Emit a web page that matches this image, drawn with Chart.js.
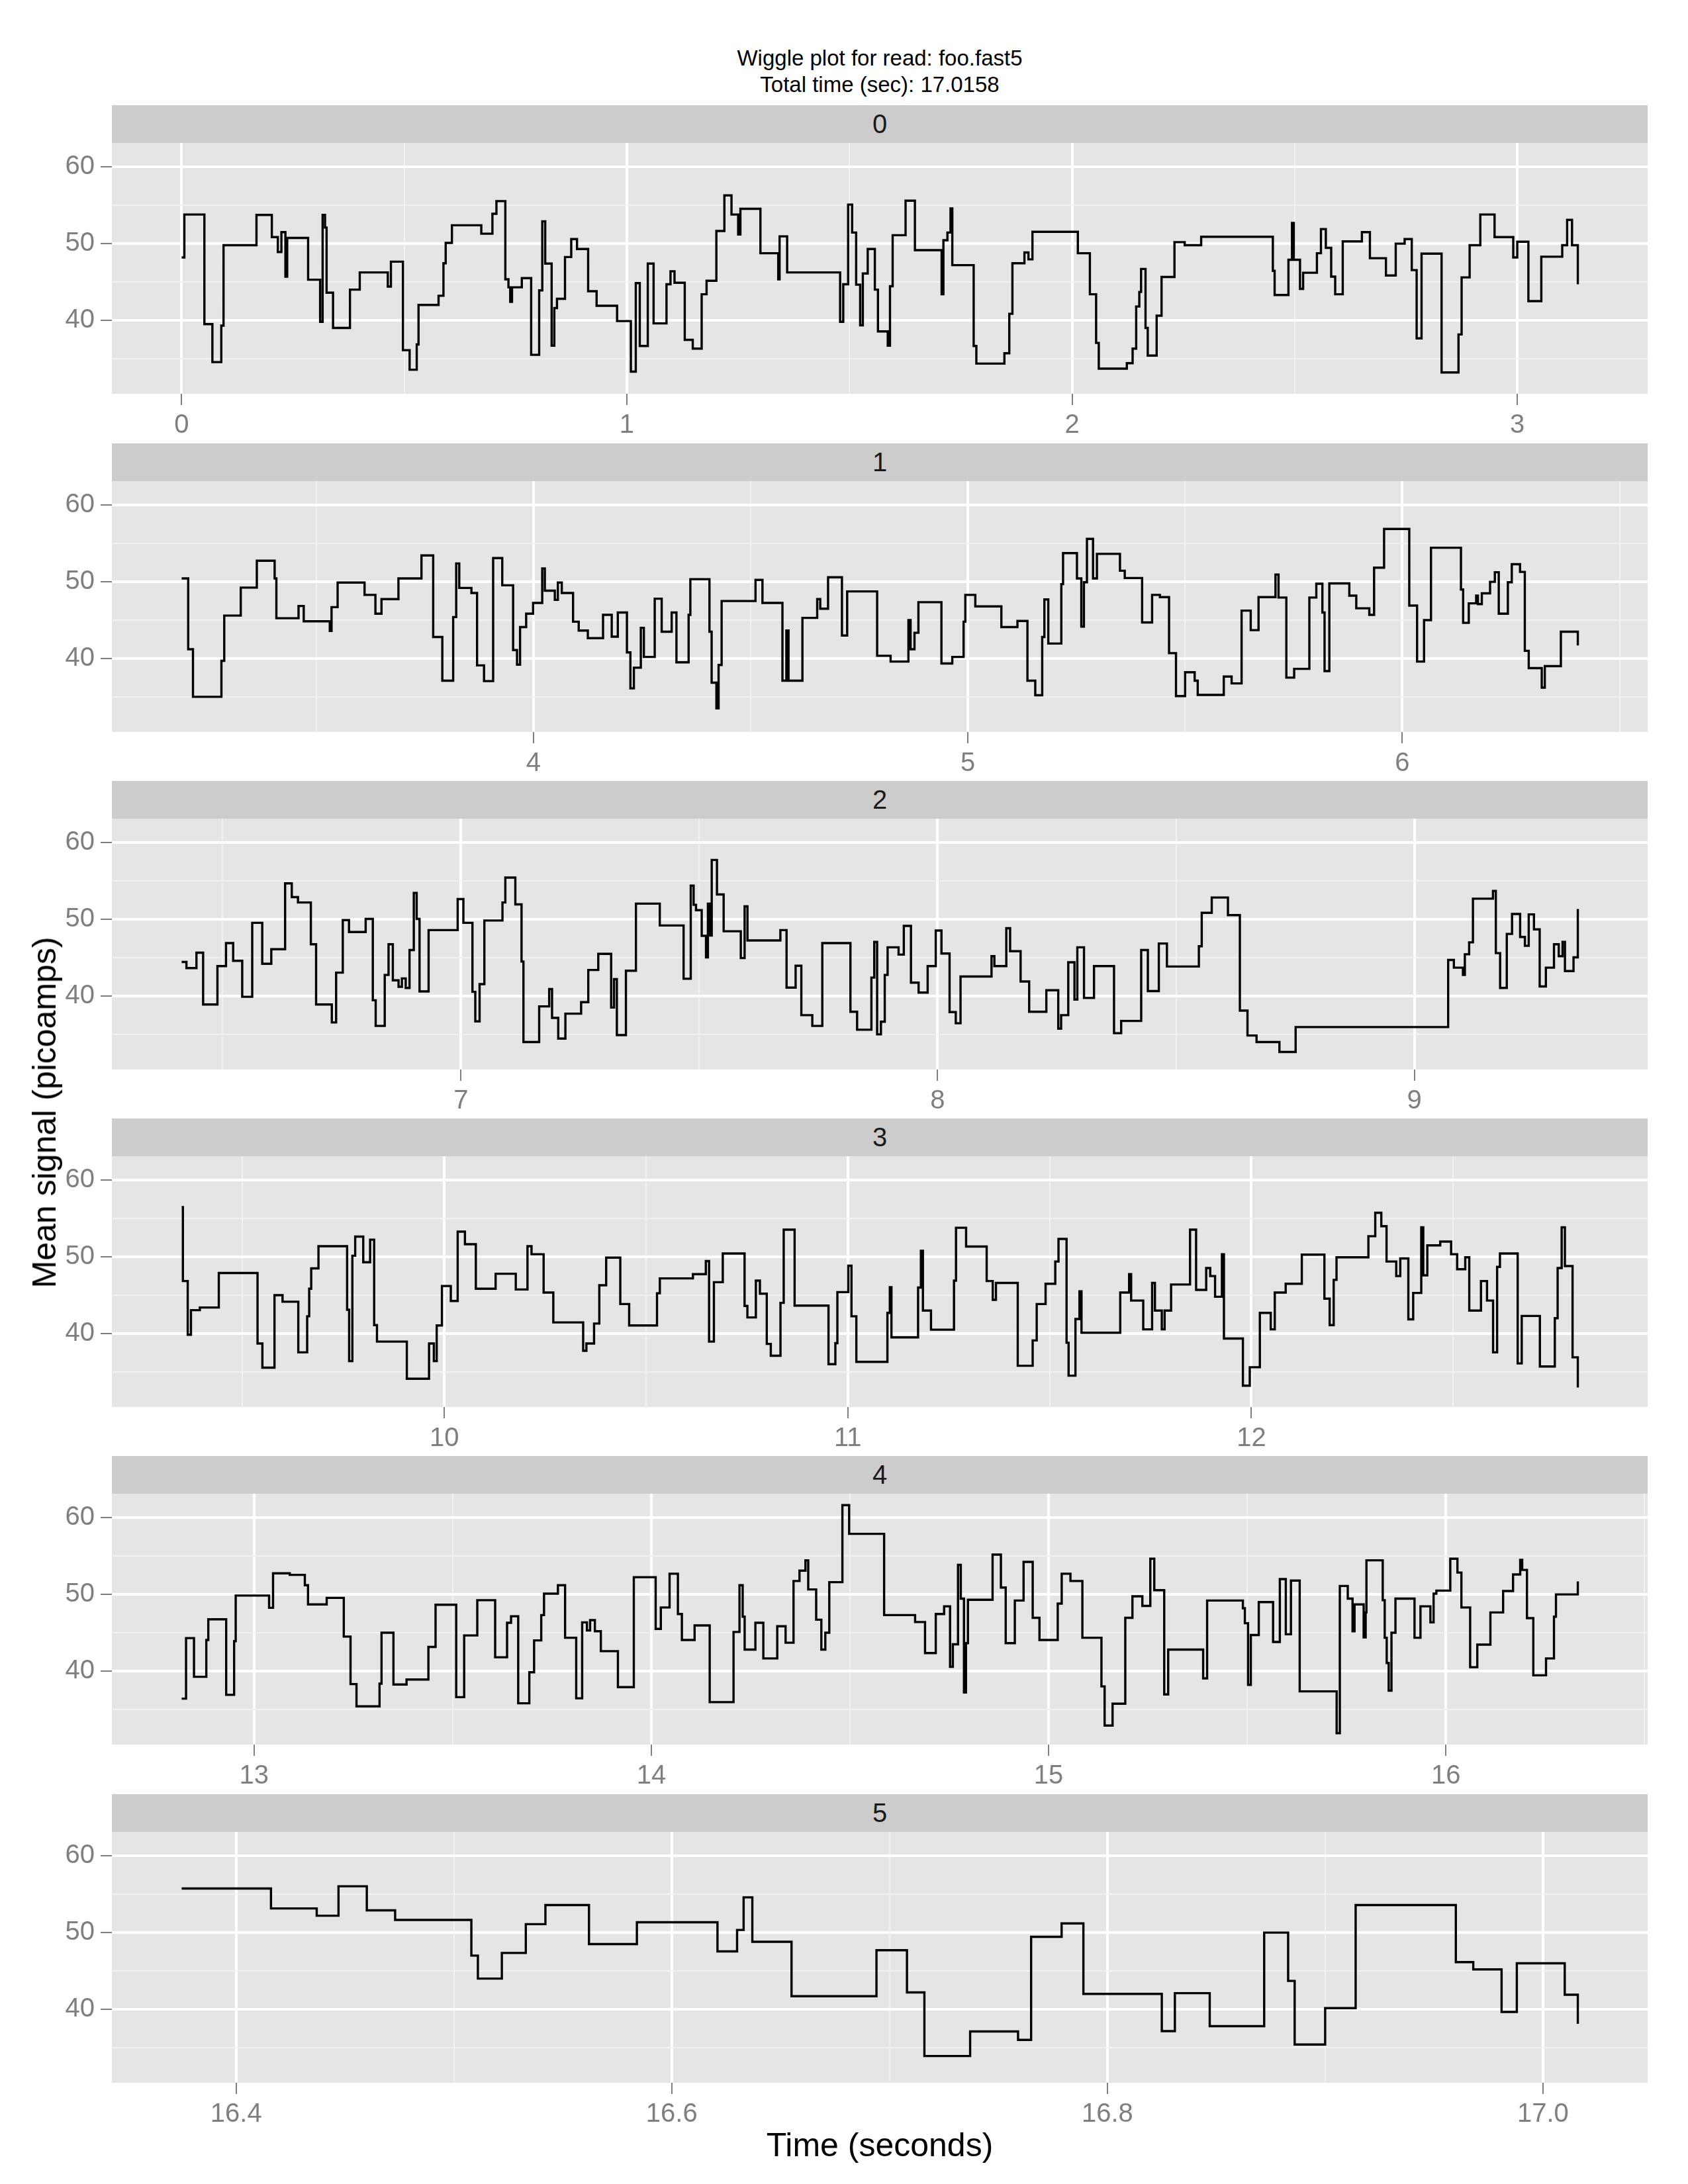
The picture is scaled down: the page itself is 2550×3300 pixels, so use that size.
<!DOCTYPE html>
<html>
<head>
<meta charset="utf-8">
<title>Wiggle plot</title>
<script src="https://cdn.jsdelivr.net/npm/chart.js@4.4.1/dist/chart.umd.min.js"></script>
<style>
  html, body { margin: 0; padding: 0; background: #ffffff; }
  body {
    width: 2550px; height: 3300px; position: relative; overflow: hidden;
    font-family: "Liberation Sans", Arial, Helvetica, sans-serif;
  }
  .title { position: absolute; left: 169px; width: 2320px; top: 68px;
    text-align: center; font-size: 33px; line-height: 40px; color: #000; }
  .strip { position: absolute; left: 169px; width: 2320px; height: 57px;
    background: #cccccc; color: #1a1a1a; font-size: 40px; line-height: 57px; text-align: center; }
  .panel { position: absolute; left: 0; }
  .xtitle { position: absolute; left: 169px; width: 2320px; top: 3211px;
    text-align: center; font-size: 50px; line-height: 60px; color: #000; }
  .ytitle { position: absolute; left: 67px; top: 1681px; white-space: nowrap;
    font-size: 50px; line-height: 60px; color: #000;
    transform: translate(-50%, -50%) rotate(-90deg); }
</style>
</head>
<body>
<div class="title">Wiggle plot for read: foo.fast5<br>Total time (sec): 17.0158</div>
<div id="panels"></div>
<div class="xtitle">Time (seconds)</div>
<div class="ytitle">Mean signal (picoamps)</div>
<script>
// facet labels
const facetLabels = ['0', '1', '2', '3', '4', '5'];

// event start times (s) and mean signal (pA), one pair of arrays per facet
const time0 = [0, 0.006, 0.051, 0.069, 0.089, 0.094, 0.168, 0.2025, 0.216, 0.224, 0.233, 0.237, 0.284, 0.311, 0.3166, 0.322, 0.3255, 0.340, 0.378, 0.400,
  0.463, 0.470, 0.497, 0.512, 0.528, 0.532, 0.577, 0.588, 0.593, 0.607, 0.673, 0.698, 0.707, 0.727, 0.734, 0.738, 0.742, 0.764, 0.785, 0.803,
  0.810, 0.8166, 0.831, 0.837, 0.843, 0.861, 0.875, 0.888, 0.913, 0.932, 0.978, 1.009, 1.020, 1.029, 1.047, 1.060, 1.089, 1.098, 1.107, 1.130,
  1.148, 1.168, 1.179, 1.201, 1.219, 1.235, 1.250, 1.255, 1.300, 1.340, 1.343, 1.360, 1.479, 1.486, 1.497, 1.506, 1.515, 1.524, 1.530, 1.541,
  1.557, 1.564, 1.586, 1.591, 1.597, 1.626, 1.647, 1.707, 1.711, 1.720, 1.727, 1.731, 1.779, 1.785, 1.848, 1.859, 1.866, 1.893, 1.902, 1.911,
  2.013, 2.040, 2.054, 2.060, 2.123, 2.136, 2.144, 2.151, 2.155, 2.165, 2.170, 2.190, 2.201, 2.230, 2.253, 2.290, 2.451, 2.455, 2.486, 2.494,
  2.498, 2.512, 2.519, 2.550, 2.559, 2.570, 2.582, 2.591, 2.608, 2.651, 2.669, 2.705, 2.727, 2.747, 2.763, 2.774, 2.785, 2.830, 2.868, 2.875,
  2.893, 2.917, 2.949, 2.991, 3.000, 3.025, 3.054, 3.101, 3.112, 3.123, 3.136];
const mean0 = [48.2, 53.8, 39.5, 34.55, 39.3, 49.8, 53.75, 50.85, 48.9, 51.5, 45.7, 50.75, 45.3, 39.8, 53.75, 52.1, 43.6, 39.0, 44.0, 46.25,
  44.4, 47.65, 36.1, 33.55, 36.85, 42.0, 43.2, 47.45, 50.1, 52.4, 51.3, 53.9, 55.55, 45.35, 44.3, 42.4, 44.3, 45.5, 35.5, 43.9,
  52.9, 47.4, 36.7, 41.6, 42.8, 48.25, 50.6, 49.3, 43.8, 41.9, 39.9, 33.3, 44.85, 36.65, 47.4, 39.6, 44.7, 46.4, 44.9, 37.45,
  36.3, 43.4, 45.15, 51.65, 56.3, 53.8, 51.2, 54.55, 48.75, 45.35, 50.95, 46.25, 39.8, 44.7, 55.1, 51.45, 44.65, 39.35, 46.1, 49.3,
  44.0, 38.55, 36.7, 44.45, 51.1, 55.6, 49.15, 43.4, 50.45, 51.45, 54.6, 47.2, 36.65, 34.35, 35.7, 40.85, 47.45, 48.85, 47.95, 51.55,
  48.75, 43.4, 37.05, 33.7, 34.4, 36.3, 41.8, 43.7, 46.7, 39.0, 35.4, 40.6, 45.65, 50.2, 49.8, 50.9, 46.45, 43.3, 47.9, 52.7,
  47.9, 44.1, 46.2, 48.75, 51.9, 49.45, 45.7, 43.4, 50.3, 51.5, 48.1, 45.85, 50.0, 50.6, 46.55, 37.65, 48.7, 33.2, 38.15, 45.6,
  49.8, 53.8, 50.85, 48.2, 50.25, 42.5, 48.3, 49.8, 53.1, 49.8, 44.7];

const time1 = [3.190, 3.205, 3.216, 3.2815, 3.288, 3.326, 3.363, 3.404, 3.408, 3.459, 3.471, 3.531, 3.535, 3.549, 3.611, 3.636, 3.650, 3.689, 3.742, 3.769,
  3.790, 3.815, 3.822, 3.829, 3.857, 3.870, 3.886, 3.907, 3.928, 3.953, 3.962, 3.969, 3.983, 3.999, 4.020, 4.026, 4.049, 4.056, 4.065, 4.091,
  4.104, 4.125, 4.160, 4.180, 4.194, 4.215, 4.223, 4.231, 4.247, 4.254, 4.279, 4.295, 4.318, 4.329, 4.357, 4.361, 4.405, 4.410, 4.421, 4.426,
  4.433, 4.511, 4.527, 4.573, 4.582, 4.587, 4.619, 4.653, 4.660, 4.678, 4.710, 4.722, 4.791, 4.822, 4.863, 4.868, 4.877, 4.886, 4.939, 4.964,
  4.990, 4.994, 5.017, 5.077, 5.114, 5.137, 5.155, 5.171, 5.176, 5.185, 5.215, 5.219, 5.251, 5.261, 5.267, 5.274, 5.288, 5.297, 5.350, 5.361,
  5.401, 5.424, 5.442, 5.463, 5.479, 5.500, 5.522, 5.529, 5.589, 5.607, 5.630, 5.651, 5.669, 5.708, 5.715, 5.733, 5.751, 5.786, 5.802, 5.816,
  5.821, 5.832, 5.878, 5.894, 5.924, 5.935, 5.958, 6.016, 6.034, 6.050, 6.066, 6.135, 6.140, 6.153, 6.170, 6.174, 6.183, 6.202, 6.213, 6.222,
  6.243, 6.252, 6.271, 6.282, 6.291, 6.321, 6.328, 6.365, 6.404];
const mean1 = [50.45, 41.2, 35.0, 39.7, 45.6, 49.25, 52.75, 50.45, 45.25, 46.85, 44.85, 43.6, 46.7, 49.9, 48.3, 45.85, 47.75, 50.45, 53.45, 42.8,
  37.1, 45.4, 52.4, 49.2, 48.55, 39.1, 37.05, 53.1, 49.55, 41.1, 39.2, 44.1, 45.85, 47.25, 51.75, 48.85, 47.65, 49.9, 48.55, 44.8,
  43.65, 42.65, 45.7, 42.85, 46.0, 40.8, 36.1, 38.8, 44.0, 40.2, 47.8, 43.5, 46.0, 39.5, 45.7, 50.35, 43.5, 36.85, 33.5, 39.15,
  47.5, 50.25, 47.25, 37.1, 43.65, 37.1, 45.3, 47.75, 46.5, 50.6, 43.0, 48.75, 40.35, 39.6, 45.0, 41.2, 43.35, 47.35, 39.35, 40.2,
  44.8, 48.3, 46.8, 44.1, 44.9, 37.1, 35.2, 42.8, 47.7, 41.95, 49.7, 53.75, 50.45, 44.15, 49.95, 55.6, 50.45, 53.65, 51.45, 50.5,
  44.7, 48.3, 48.0, 40.7, 35.1, 38.2, 37.1, 35.25, 37.65, 36.75, 46.25, 43.7, 48.0, 50.95, 47.95, 37.5, 38.65, 47.95, 49.75, 46.0,
  38.35, 49.8, 48.2, 46.55, 45.7, 51.85, 56.9, 46.9, 39.6, 45.0, 54.45, 49.0, 44.65, 47.2, 48.2, 47.1, 48.5, 50.0, 51.25, 45.85,
  49.95, 52.3, 51.3, 41.0, 38.75, 36.2, 39.0, 43.5, 41.7];

const time2 = [6.414, 6.424, 6.445, 6.459, 6.489, 6.507, 6.522, 6.541, 6.562, 6.583, 6.602, 6.631, 6.645, 6.658, 6.685, 6.696, 6.729, 6.738, 6.752, 6.765,
  6.800, 6.815, 6.821, 6.840, 6.848, 6.857, 6.869, 6.876, 6.884, 6.892, 6.901, 6.907, 6.913, 6.932, 6.993, 7.005, 7.024, 7.030, 7.039, 7.049,
  7.087, 7.093, 7.114, 7.127, 7.131, 7.164, 7.185, 7.191, 7.204, 7.219, 7.252, 7.267, 7.288, 7.315, 7.321, 7.327, 7.346, 7.367, 7.417, 7.467,
  7.482, 7.488, 7.493, 7.505, 7.514, 7.518, 7.522, 7.526, 7.537, 7.551, 7.587, 7.595, 7.601, 7.670, 7.683, 7.702, 7.714, 7.737, 7.758, 7.817,
  7.831, 7.861, 7.867, 7.873, 7.881, 7.889, 7.895, 7.918, 7.929, 7.944, 7.960, 7.979, 7.996, 8.008, 8.025, 8.038, 8.048, 8.113, 8.119, 8.144,
  8.152, 8.174, 8.192, 8.228, 8.253, 8.259, 8.274, 8.287, 8.293, 8.307, 8.328, 8.370, 8.385, 8.427, 8.441, 8.464, 8.481, 8.548, 8.554, 8.575,
  8.609, 8.634, 8.650, 8.669, 8.717, 8.751, 9.071, 9.083, 9.102, 9.106, 9.115, 9.123, 9.165, 9.171, 9.180, 9.194, 9.205, 9.222, 9.232, 9.240,
  9.251, 9.263, 9.276, 9.293, 9.303, 9.311, 9.316, 9.334, 9.343];
const mean2 = [44.45, 43.65, 45.65, 38.9, 43.9, 46.9, 44.6, 39.9, 49.55, 44.2, 46.1, 54.7, 52.9, 52.2, 46.75, 38.9, 36.55, 43.05, 49.9, 48.35,
  50.05, 39.45, 36.1, 42.75, 46.75, 42.05, 41.2, 42.3, 41.05, 46.0, 53.45, 50.05, 40.6, 48.6, 52.65, 49.55, 40.55, 36.7, 41.55, 49.85,
  52.2, 55.45, 51.95, 44.5, 34.0, 38.65, 40.9, 37.15, 34.45, 37.7, 39.2, 43.4, 45.5, 38.5, 42.2, 34.9, 43.3, 52.05, 49.2, 42.25,
  54.4, 51.9, 51.2, 47.85, 45.05, 52.05, 47.9, 57.75, 53.25, 48.45, 44.95, 51.7, 47.25, 48.6, 41.1, 43.95, 37.5, 36.1, 46.9, 37.95,
  35.6, 42.4, 47.05, 35.0, 36.65, 42.75, 46.35, 45.4, 49.15, 41.75, 40.45, 43.9, 48.55, 45.55, 37.9, 36.45, 42.55, 45.2, 43.9, 48.85,
  45.85, 41.9, 37.95, 40.75, 35.75, 37.5, 44.4, 39.55, 46.35, 39.75, 43.9, 35.15, 36.75, 46.0, 40.65, 46.85, 43.85, 46.5, 50.85, 52.85,
  50.55, 38.1, 34.85, 34.0, 32.7, 35.95, 44.7, 43.7, 42.75, 45.45, 47.0, 52.7, 53.7, 45.6, 41.05, 48.1, 50.7, 47.7, 46.55, 50.65,
  48.7, 41.25, 43.7, 46.75, 45.2, 47.05, 43.25, 45.05, 51.35];

const time3 = [9.349, 9.352, 9.364, 9.372, 9.394, 9.441, 9.537, 9.549, 9.579, 9.599, 9.638, 9.660, 9.665, 9.670, 9.688, 9.759, 9.764, 9.772, 9.779, 9.799,
  9.816, 9.826, 9.833, 9.907, 9.962, 9.974, 9.981, 9.994, 10.016, 10.033, 10.051, 10.078, 10.127, 10.177, 10.206, 10.216, 10.246, 10.270, 10.344, 10.352,
  10.371, 10.384, 10.401, 10.436, 10.458, 10.527, 10.534, 10.616, 10.648, 10.656, 10.668, 10.690, 10.744, 10.751, 10.772, 10.782, 10.799, 10.809, 10.833, 10.841,
  10.868, 10.952, 10.969, 10.974, 11.001, 11.009, 11.021, 11.098, 11.104, 11.108, 11.174, 11.181, 11.186, 11.206, 11.263, 11.268, 11.293, 11.344, 11.359, 11.367,
  11.421, 11.458, 11.468, 11.490, 11.514, 11.522, 11.542, 11.547, 11.564, 11.574, 11.579, 11.675, 11.697, 11.702, 11.732, 11.754, 11.761, 11.778, 11.785, 11.801,
  11.848, 11.863, 11.888, 11.898, 11.910, 11.927, 11.932, 11.979, 11.996, 12.021, 12.048, 12.058, 12.085, 12.125, 12.181, 12.194, 12.204, 12.211, 12.290, 12.307,
  12.322, 12.335, 12.359, 12.369, 12.389, 12.401, 12.421, 12.426, 12.436, 12.468, 12.495, 12.510, 12.530, 12.540, 12.569, 12.584, 12.599, 12.609, 12.616, 12.660,
  12.670, 12.715, 12.752, 12.759, 12.769, 12.777, 12.796, 12.809];
const mean3 = [56.5, 46.85, 39.85, 43.05, 43.4, 47.9, 38.7, 35.55, 45.0, 44.15, 37.55, 42.25, 45.85, 48.5, 51.4, 43.1, 36.4, 50.15, 52.65, 49.3,
  52.25, 41.1, 38.95, 34.1, 38.7, 36.4, 41.05, 46.2, 44.25, 53.3, 51.65, 45.85, 47.8, 45.75, 51.4, 50.35, 45.35, 41.45, 37.75, 38.7,
  41.3, 46.3, 49.9, 43.85, 41.05, 45.25, 47.2, 47.75, 49.45, 38.95, 46.7, 50.45, 43.6, 42.1, 46.9, 45.2, 38.65, 37.1, 44.0, 53.55,
  43.65, 36.0, 38.75, 45.4, 48.85, 42.25, 36.3, 42.7, 46.05, 39.5, 46.0, 50.8, 43.0, 40.5, 46.9, 53.8, 51.35, 46.85, 44.4, 46.6,
  35.8, 39.1, 43.85, 46.5, 49.4, 52.35, 38.8, 34.5, 41.9, 45.5, 40.1, 45.35, 47.75, 44.3, 40.55, 46.6, 43.0, 40.55, 43.0, 46.4,
  53.55, 45.7, 48.55, 47.5, 44.8, 50.35, 39.35, 33.2, 35.6, 42.7, 40.55, 45.35, 46.5, 50.3, 44.55, 41.1, 47.0, 49.95, 52.7, 55.75,
  54.0, 49.4, 47.5, 49.8, 41.85, 45.3, 53.85, 47.6, 51.5, 52.0, 50.35, 48.4, 49.95, 43.0, 46.85, 44.3, 37.55, 48.7, 50.45, 36.1,
  42.3, 35.7, 42.0, 48.55, 53.85, 48.8, 36.9, 32.95];

const time4 = [12.818, 12.829, 12.849, 12.880, 12.885, 12.930, 12.950, 12.954, 13.038, 13.048, 13.090, 13.128, 13.136, 13.183, 13.226, 13.243, 13.258, 13.316, 13.321, 13.351,
  13.384, 13.439, 13.457, 13.509, 13.529, 13.562, 13.607, 13.637, 13.647, 13.665, 13.693, 13.705, 13.723, 13.730, 13.765, 13.783, 13.811, 13.826, 13.838, 13.846,
  13.858, 13.873, 13.916, 13.956, 14.011, 14.024, 14.046, 14.067, 14.077, 14.109, 14.147, 14.207, 14.222, 14.230, 14.235, 14.262, 14.282, 14.317, 14.338, 14.358,
  14.373, 14.388, 14.395, 14.415, 14.428, 14.438, 14.448, 14.481, 14.498, 14.586, 14.664, 14.689, 14.716, 14.737, 14.752, 14.759, 14.772, 14.779, 14.787, 14.792,
  14.797, 14.859, 14.880, 14.892, 14.915, 14.937, 14.960, 14.977, 15.023, 15.033, 15.055, 15.085, 15.133, 15.141, 15.161, 15.193, 15.211, 15.236, 15.256, 15.266,
  15.291, 15.301, 15.389, 15.399, 15.489, 15.494, 15.502, 15.509, 15.529, 15.565, 15.582, 15.597, 15.610, 15.632, 15.725, 15.733, 15.753, 15.765, 15.770, 15.793,
  15.798, 15.800, 15.841, 15.846, 15.851, 15.856, 15.863, 15.873, 15.921, 15.936, 15.961, 15.969, 15.976, 16.011, 16.029, 16.039, 16.061, 16.079, 16.112, 16.144,
  16.169, 16.187, 16.192, 16.204, 16.220, 16.252, 16.272, 16.277, 16.332];
const mean4 = [36.4, 44.3, 39.25, 44.05, 46.75, 36.9, 43.9, 49.85, 48.25, 52.75, 52.55, 51.2, 48.7, 49.55, 44.5, 38.3, 35.4, 38.35, 45.0, 38.25,
  38.9, 43.15, 48.65, 36.6, 44.65, 49.25, 41.8, 46.3, 47.15, 35.8, 39.85, 44.0, 47.3, 50.1, 51.2, 44.35, 36.45, 46.35, 45.3, 46.65,
  45.2, 42.6, 37.9, 52.25, 45.5, 48.3, 52.7, 47.45, 44.05, 45.95, 35.95, 45.1, 51.2, 47.1, 42.8, 46.3, 41.65, 45.85, 43.7, 51.75,
  53.1, 54.45, 50.65, 46.7, 42.8, 45.0, 51.6, 61.65, 57.9, 47.3, 46.4, 42.35, 47.45, 48.45, 40.55, 43.5, 53.85, 49.45, 37.2, 43.65,
  49.3, 55.2, 50.9, 43.65, 49.2, 54.25, 46.95, 44.05, 48.8, 52.7, 51.75, 44.35, 38.0, 32.9, 35.75, 46.95, 49.75, 48.5, 54.65, 50.55,
  36.95, 42.8, 39.05, 49.2, 48.2, 46.25, 38.2, 44.7, 49.0, 43.8, 52.0, 44.8, 51.8, 37.35, 31.9, 51.1, 49.45, 45.2, 48.7, 44.4,
  47.65, 54.45, 49.25, 44.35, 41.05, 37.45, 45.0, 49.45, 44.35, 48.45, 46.35, 50.1, 50.5, 54.65, 52.85, 48.3, 40.5, 43.45, 47.65, 50.45,
  52.6, 54.5, 53.2, 46.9, 39.45, 41.65, 47.1, 50.0, 51.7];

const time5 = [16.375, 16.416, 16.437, 16.447, 16.460, 16.473, 16.508, 16.511, 16.522, 16.533, 16.542, 16.562, 16.584, 16.621, 16.630, 16.633, 16.637, 16.655, 16.694, 16.708,
  16.716, 16.737, 16.759, 16.765, 16.779, 16.789, 16.825, 16.831, 16.847, 16.872, 16.883, 16.886, 16.900, 16.914, 16.960, 16.968, 16.981, 16.988, 17.010, 17.016];
const mean5 = [55.75, 53.15, 52.2, 56.05, 52.9, 51.65, 47.0, 44.0, 47.35, 51.1, 53.6, 48.5, 51.35, 47.55, 50.35, 54.6, 48.8, 41.7, 47.7, 42.2,
  33.9, 37.1, 36.0, 49.45, 51.2, 42.0, 37.15, 42.1, 37.8, 50.0, 43.7, 35.4, 40.15, 53.6, 46.15, 45.2, 39.65, 46.0, 41.9, 38.1];

// axis breaks
const xMajor = [[0, 1, 2, 3], [4, 5, 6], [7, 8, 9], [10, 11, 12], [13, 14, 15, 16], [16.4, 16.6, 16.8, 17.0]];
const xLabels = [['0', '1', '2', '3'], ['4', '5', '6'], ['7', '8', '9'], ['10', '11', '12'], ['13', '14', '15', '16'], ['16.4', '16.6', '16.8', '17.0']];
const xMinor = [[0.5, 1.5, 2.5], [3.5, 4.5, 5.5, 6.5], [6.5, 7.5, 8.5], [9.5, 10.5, 11.5, 12.5], [13.5, 14.5, 15.5, 16.5], [16.5, 16.7, 16.9]];
const yMajor = [40, 50, 60];
const yMinor = [35, 45, 55];

const times = [time0, time1, time2, time3, time4, time5];
const means = [mean0, mean1, mean2, mean3, mean4, mean5];

// layout (pixels)
const PLOT_LEFT = 169;
const PLOT_RIGHT = 2489;
const PLOT_H = 379;
const TOP_PAD = 50;
const AXIS_H = 80;
const plotTops = [216, 727, 1237, 1747, 2257, 2768];
const FONT = '"Liberation Sans", Arial, Helvetica, sans-serif';

// ggplot-style 5% expansion
function expand(lo, hi) {
  const d = (hi - lo) * 0.05;
  return [lo - d, hi + d];
}

const allMeans = means.flat();
const yRange = expand(Math.min(...allMeans), Math.max(...allMeans));

const panelBg = {
  id: 'panelBg',
  beforeDraw(chart) {
    const a = chart.chartArea;
    const ctx = chart.ctx;
    ctx.save();
    ctx.fillStyle = '#e5e5e5';
    ctx.fillRect(a.left, a.top, a.right - a.left, a.bottom - a.top);
    ctx.restore();
  }
};

function isIn(list, v) {
  return list.some(m => Math.abs(m - v) < 1e-6);
}

function makePanel(k) {
  const holder = document.getElementById('panels');

  const canvas = document.createElement('canvas');
  canvas.className = 'panel';
  canvas.width = 2550;
  canvas.height = TOP_PAD + PLOT_H + AXIS_H;
  canvas.style.top = (plotTops[k] - TOP_PAD) + 'px';
  canvas.style.width = '2550px';
  canvas.style.height = canvas.height + 'px';
  holder.appendChild(canvas);

  const strip = document.createElement('div');
  strip.className = 'strip';
  strip.style.top = (plotTops[k] - 57) + 'px';
  strip.textContent = facetLabels[k];
  holder.appendChild(strip);

  const t = times[k];
  const xRange = expand(t[0], t[t.length - 1]);
  const points = t.map((x, i) => ({ x: x, y: means[k][i] }));
  const major = xMajor[k];
  const minor = xMinor[k];

  return new Chart(canvas.getContext('2d'), {
    type: 'line',
    data: {
      datasets: [{
        data: points,
        stepped: true,
        borderColor: '#000000',
        borderWidth: 3.4,
        borderCapStyle: 'butt',
        pointRadius: 0,
        fill: false
      }]
    },
    options: {
      responsive: false,
      animation: false,
      devicePixelRatio: 1,
      parsing: false,
      layout: { padding: { top: TOP_PAD, right: 2550 - PLOT_RIGHT, bottom: 0, left: 0 } },
      plugins: { legend: { display: false }, tooltip: { enabled: false } },
      scales: {
        x: {
          type: 'linear',
          min: xRange[0],
          max: xRange[1],
          afterBuildTicks: scale => {
            scale.ticks = major.concat(minor).sort((a, b) => a - b).map(v => ({ value: v }));
          },
          afterFit: scale => { scale.height = AXIS_H; },
          border: { display: false },
          grid: {
            color: ctx => isIn(major, ctx.tick.value) ? '#ffffff' : '#f2f2f2',
            lineWidth: ctx => isIn(major, ctx.tick.value) ? 4 : 2,
            tickColor: ctx => isIn(major, ctx.tick.value) ? '#7f7f7f' : 'rgba(0,0,0,0)',
            tickWidth: 2,
            tickLength: 17
          },
          ticks: {
            autoSkip: false,
            maxRotation: 0,
            padding: 7,
            color: '#7f7f7f',
            font: { family: FONT, size: 40 },
            callback: v => {
              const i = major.findIndex(m => Math.abs(m - v) < 1e-6);
              return i >= 0 ? xLabels[k][i] : '';
            }
          }
        },
        y: {
          type: 'linear',
          min: yRange[0],
          max: yRange[1],
          afterBuildTicks: scale => {
            scale.ticks = yMajor.concat(yMinor).sort((a, b) => a - b).map(v => ({ value: v }));
          },
          afterFit: scale => { scale.width = PLOT_LEFT; },
          border: { display: false },
          grid: {
            color: ctx => isIn(yMajor, ctx.tick.value) ? '#ffffff' : '#f2f2f2',
            lineWidth: ctx => isIn(yMajor, ctx.tick.value) ? 4 : 2,
            tickColor: ctx => isIn(yMajor, ctx.tick.value) ? '#7f7f7f' : 'rgba(0,0,0,0)',
            tickWidth: 2,
            tickLength: 17
          },
          ticks: {
            autoSkip: false,
            padding: 9,
            color: '#7f7f7f',
            font: { family: FONT, size: 40 },
            callback: v => isIn(yMajor, v) ? String(v) : ''
          }
        }
      }
    },
    plugins: [panelBg]
  });
}

facetLabels.forEach((_, k) => makePanel(k));
</script>
</body>
</html>
